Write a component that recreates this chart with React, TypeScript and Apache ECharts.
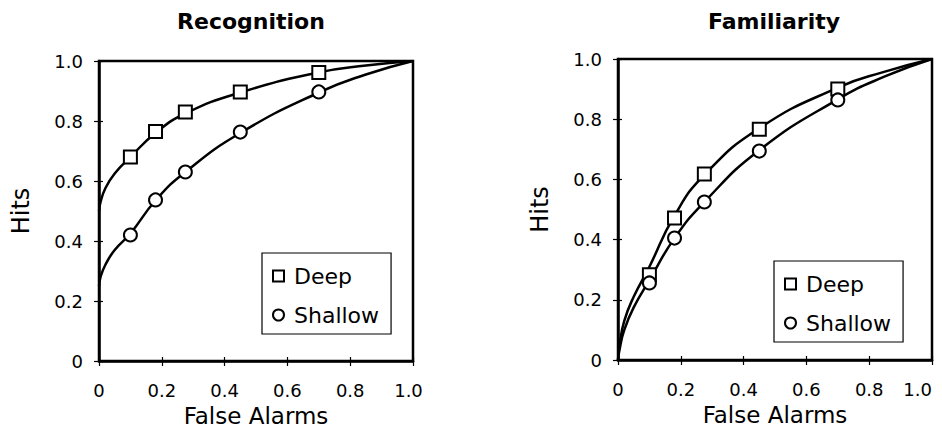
import React, { useEffect, useRef } from "react";
import * as echarts from "echarts";

// ---------- data ----------
const falseAlarms = [0.1, 0.18, 0.275, 0.45, 0.7];
const recogDeep = [0.68, 0.765, 0.83, 0.897, 0.962];
const recogShallow = [0.42, 0.537, 0.63, 0.763, 0.897];
const famDeep = [0.283, 0.472, 0.618, 0.767, 0.9];
const famShallow = [0.256, 0.405, 0.525, 0.694, 0.864];

// fitted ROC curves
const fitX = [0, 0.005, 0.02, 0.05, 0.1, 0.18, 0.275, 0.45, 0.7, 0.85, 1];
const recogDeepFit = [0.5, 0.53, 0.575, 0.625, 0.68, 0.76, 0.825, 0.895, 0.962, 0.985, 1];
const recogShallowFit = [0.25, 0.28, 0.32, 0.37, 0.425, 0.535, 0.63, 0.76, 0.895, 0.955, 1];
const famDeepFit = [0, 0.05, 0.13, 0.21, 0.31, 0.48, 0.615, 0.77, 0.905, 0.958, 1];
const famShallowFit = [0, 0.035, 0.1, 0.175, 0.265, 0.405, 0.525, 0.697, 0.866, 0.942, 1];

const tickLabels = ["0", "0.2", "0.4", "0.6", "0.8", "1.0"];
const panelTitles = ["Recognition", "Familiarity"];
const legendNames = ["Deep", "Shallow"];
const xAxisTitle = "False Alarms";
const yAxisTitle = "Hits";

const FONT = "DejaVu Sans";

const pairs = (xs: number[], ys: number[]) => xs.map((x, i) => [x, ys[i]]);
const fmt = (v: number) => tickLabels[Math.round(v / 0.2)] ?? String(v);

export default function App() {
  const ref = useRef<HTMLDivElement>(null);
  useEffect(() => {
    if (!ref.current) return;
    const chart = echarts.init(ref.current, undefined, { renderer: "svg" });

    const grids = [
      { left: 99, top: 61, width: 314, height: 300 },
      { left: 618, top: 59, width: 314, height: 301 },
    ];

    const mainX = (g: number) => ({
      type: "value",
      gridIndex: g,
      min: 0,
      max: 1,
      interval: 0.2,
      position: "bottom",
      name: xAxisTitle,
      nameLocation: "middle",
      nameGap: 45,
      nameTextStyle: { fontFamily: FONT, fontSize: 23, lineHeight: 20, color: "#000" },
      axisLine: { show: true, lineStyle: { color: "#000", width: 2.5 } },
      axisTick: { show: true, length: 5, lineStyle: { color: "#000", width: 1.2 } },
      axisLabel: {
        formatter: (v: number) => (g === 0 && v === 1 ? `{m|${fmt(v)}}` : fmt(v)),
        rich: { m: { padding: [0, 9, 0, 0], fontFamily: FONT, fontSize: 18, color: "#000" } },
        alignMaxLabel: g === 1 ? "right" : "center",
        margin: 20,
        fontFamily: FONT,
        fontSize: 18,
        color: "#000",
      },
      splitLine: { show: false },
    });
    const innerX = (g: number) => ({
      type: "value",
      gridIndex: g,
      min: 0,
      max: 1,
      interval: 0.2,
      position: "bottom",
      axisLine: { show: false },
      axisTick: { show: true, inside: true, length: 4, lineStyle: { color: "#000", width: 1.2 } },
      axisLabel: { show: false },
      splitLine: { show: false },
    });
    const mainY = (g: number) => ({
      type: "value",
      gridIndex: g,
      min: 0,
      max: 1,
      interval: 0.2,
      position: "left",
      name: yAxisTitle,
      nameLocation: "middle",
      nameGap: 66,
      nameRotate: 90,
      nameTextStyle: { fontFamily: FONT, fontSize: 24, color: "#000" },
      axisLine: { show: true, lineStyle: { color: "#000", width: 2.5 } },
      axisTick: { show: true, length: 5, lineStyle: { color: "#000", width: 1.2 } },
      axisLabel: { formatter: fmt, margin: 16, fontFamily: FONT, fontSize: 18, color: "#000" },
      splitLine: { show: false },
    });
    const innerY = (g: number) => ({
      type: "value",
      gridIndex: g,
      min: 0,
      max: 1,
      interval: 0.2,
      position: "left",
      axisLine: { show: false },
      axisTick: { show: true, inside: true, length: 4, lineStyle: { color: "#000", width: 1.2 } },
      axisLabel: { show: false },
      splitLine: { show: false },
    });

    const fitLine = (name: string, g: number, ys: number[]) => ({
      type: "line",
      name,
      xAxisIndex: g,
      yAxisIndex: g,
      data: pairs(fitX, ys),
      smooth: 0.5,
      showSymbol: false,
      symbol: "none",
      lineStyle: { color: "#000", width: 2.5 },
      itemStyle: { color: "#000" },
      z: 2,
      silent: true,
    });
    const points = (name: string, g: number, ys: number[], symbol: string) => ({
      type: "scatter",
      name,
      xAxisIndex: g,
      yAxisIndex: g,
      data: pairs(falseAlarms, ys),
      symbol,
      symbolSize: 13,
      itemStyle: { color: "#fff", borderColor: "#000", borderWidth: 2, opacity: 1 },
      z: 5,
    });

    const legendBase = (left: number, top: number) => ({
      left,
      top,
      orient: "vertical",
      data: legendNames,
      selectedMode: false,
      backgroundColor: "#fff",
      borderColor: "#000",
      borderWidth: 1.2,
      padding: [12, 12, 8, 10],
      itemGap: 17,
      itemWidth: 11,
      itemHeight: 11,
      itemStyle: { color: "#fff", borderColor: "#000", borderWidth: 2 },
      textStyle: { fontFamily: FONT, fontSize: 22, color: "#000", padding: [0, 0, 0, 5] },
    });

    const titleText = (text: string, x: number) => ({
      type: "text",
      x,
      y: 21,
      style: {
        text,
        textAlign: "center",
        textVerticalAlign: "middle",
        fontFamily: FONT,
        fontWeight: "bold",
        fontSize: 22,
        fill: "#000",
      },
    });

    chart.setOption({
      animation: false,
      backgroundColor: "#fff",
      grid: grids.map((g) => ({
        ...g,
        show: true,
        borderColor: "#000",
        borderWidth: 2.5,
        backgroundColor: "transparent",
        containLabel: false,
        outerBoundsMode: "none",
      })),
      xAxis: [mainX(0), mainX(1), innerX(0), innerX(1)],
      yAxis: [mainY(0), mainY(1), innerY(0), innerY(1)],
      legend: [legendBase(262, 253), legendBase(774, 261)],
      graphic: [titleText(panelTitles[0], 251), titleText(panelTitles[1], 774)],
      series: [
        fitLine("Deep fit", 0, recogDeepFit),
        fitLine("Shallow fit", 0, recogShallowFit),
        fitLine("Deep fit", 1, famDeepFit),
        fitLine("Shallow fit", 1, famShallowFit),
        points(legendNames[0], 0, recogDeep, "rect"),
        points(legendNames[1], 0, recogShallow, "circle"),
        points(legendNames[0], 1, famDeep, "rect"),
        points(legendNames[1], 1, famShallow, "circle"),
      ],
    });
    return () => chart.dispose();
  }, []);

  return (
    <div
      ref={ref}
      style={{ position: "absolute", left: 0, top: 0, width: 942, height: 430 }}
    />
  );
}
